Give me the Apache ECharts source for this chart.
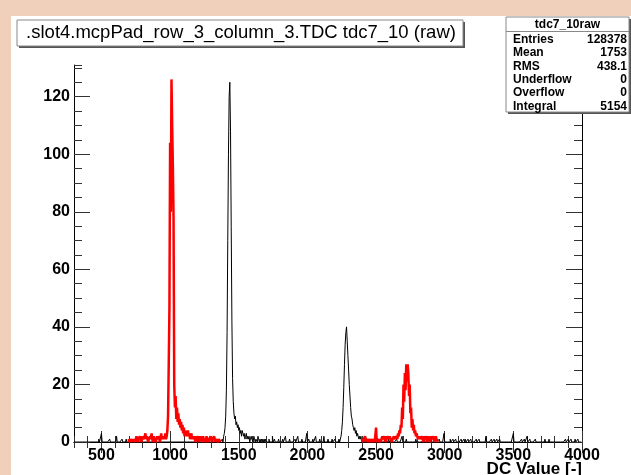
<!DOCTYPE html>
<html><head><meta charset="utf-8">
<script src="https://cdn.jsdelivr.net/npm/echarts@6/dist/echarts.min.js"></script>
<style>html,body{margin:0;padding:0;background:#fff}#c{width:631px;height:475px}</style>
</head><body><div id="c"></div>
<script>
// ---- axis / binning ----
const xMin = 300, xMax = 4000, binWidth = 5;
const yMin = 0, yMax = 131;
const xMajorTicks = [500, 1000, 1500, 2000, 2500, 3000, 3500, 4000];
const yMajorTicks = [0, 20, 40, 60, 80, 100, 120];

// ---- red histogram (two ranges) ----
const red1Start = 700;
const red1Counts = [
  1,0,1,1,0,1,0,1,1,0,
  1,2,1,0,1,1,2,1,0,1,
  2,1,1,2,3,1,2,1,0,1,
  1,2,1,3,1,0,2,1,1,0,
  1,2,1,1,2,0,1,3,1,2,
  1,2,
  1,3,1,2,4,9,27,46,104,80,126,110,96,78,20,12,16,8,12,7,
  10,6,8,5,7,4,6,3,5,2,4,3,2,3,4,2,3,1,2,3,
  1,2,1,2,1,0,2,1,1,2,0,1,2,1,1,0,2,1,1,1,
  0,2,1,1,0,1,1,2,1,0,1,1,2,1,0,1,1,1,0,1,
  1,0
];
const red2Start = 2400;
const red2Counts = [
  1,0,1,1,2,1,0,1,1,0,
  1,1,0,1,1,0,1,1,0,0,
  5,0,1,1,0,1,1,0,1,2,
  1,1,2,1,0,2,1,1,2,1,
  2,1,1,0,1,1,2,1,1,1,
  2,1,
  3,2,4,3,6,5,12,8,20,14,24,18,27,21,27,24,16,20,10,12,
  5,8,4,6,3,4,2,3,2,1,2,1,2,1,1,2,1,0,2,1,
  1,2,0,1,2,1,1,0,2,1,1,2,1,0,1,2,1,1
];

// ---- black histogram ----
const black1Start = 1380;
const black1Counts = [
  1,0,2,3,5,9,18,38,70,100,120,125,108,75,42,22,14,10,8,9,
  6,7,5,6,4,5,3,4,2,4,3,2,3,1,2,3,1,2,1,2,
  0,1,2,1,1,0,2,1,0,1,1,0,2,1,0,1,0,1,0,1,
  0,1,0,1
];
const black2Start = 2230;
const black2Counts = [
  1,0,1,2,4,7,12,19,27,34,38,40,35,30,25,20,16,12,9,8,
  6,5,4,5,3,4,2,3,2,1,2,1,2,0,1,1,0,1,0,1,
  0,1,0,1
];
const blackSpikeBins = [480,500,560,610,650,680,1720,1745,1760,1790,1820,1840,1870,1910,1930,1960,1995,2010,2040,2060,2090,2120,2150,2180,2200,2470,2490,2515,2560,2590,2610,2650,2690,2720,2790,2850,2900,2960,2995,3040,3060,3080,3120,3140,3150,3170,3190,3230,3250,3300,3340,3360,3380,3400,3500,3560,3580,3600,3620,3660,3730,3760,3880,3900,3920,3950,3970];
const blackSpikeCounts = [1,3,1,2,1,1,1,2,1,1,1,2,1,1,2,1,3,1,1,2,1,2,1,1,1,1,1,1,2,1,1,1,2,1,1,2,1,1,3,1,1,1,1,1,1,1,1,1,1,2,1,1,1,1,3,1,1,2,1,1,1,1,1,1,1,1,1];

// ---- texts ----
const titleText = '.slot4.mcpPad_row_3_column_3.TDC tdc7_10 (raw)';
const xAxisTitle = 'DC Value [-]';
const statsName = 'tdc7_10raw';
const statsLabels = ['Entries', 'Mean', 'RMS', 'Underflow', 'Overflow', 'Integral'];
const statsValues = ['128378', '1753', '438.1', '0', '0', '5154'];

// ---- build step data ----
function stepData(start, counts) {
  const d = [[start, 0]];
  counts.forEach((c, i) => d.push([start + i * binWidth, c]));
  const end = start + counts.length * binWidth;
  d.push([end, counts[counts.length - 1]]);
  d.push([end, 0]);
  return d;
}
const nBins = Math.round((xMax - xMin) / binWidth);
const blackAll = new Array(nBins).fill(0);
blackSpikeBins.forEach((b, i) => { blackAll[Math.round((b - xMin) / binWidth)] = blackSpikeCounts[i]; });
black1Counts.forEach((c, i) => { blackAll[Math.round((black1Start - xMin) / binWidth) + i] = c; });
black2Counts.forEach((c, i) => { blackAll[Math.round((black2Start - xMin) / binWidth) + i] = c; });

const FONT = '"Liberation Sans", Arial, Helvetica, sans-serif';
const tickColor = '#333';
const labelStyle = { fontFamily: FONT, fontWeight: 'bold', fontSize: 16, color: '#000' };

function xAx(pos, major, labels) {
  const a = {
    type: 'value', min: xMin, max: xMax, position: pos, gridIndex: 0,
    splitLine: { show: false },
    axisLine: { show: !major, lineStyle: { color: '#000', width: 1 } },
    axisTick: { show: true, inside: true, length: major ? 11 : 6, lineStyle: { color: tickColor, width: 1 } },
    axisLabel: { show: false }
  };
  if (major) { a.axisTick.customValues = xMajorTicks; } else { a.interval = 100; }
  if (labels) {
    a.axisLabel = Object.assign({ show: true, margin: 6, formatter: v => (xMajorTicks.includes(v) ? String(v) : '') }, labelStyle);
  }
  return a;
}
function yAx(pos, major, labels) {
  const a = {
    type: 'value', min: yMin, max: yMax, position: pos, gridIndex: 0,
    splitLine: { show: false },
    axisLine: { show: !major, lineStyle: { color: '#000', width: 1 } },
    axisTick: { show: true, inside: true, length: major ? 16 : 8, lineStyle: { color: tickColor, width: 1 } },
    axisLabel: { show: false }
  };
  if (major) { a.axisTick.customValues = yMajorTicks; } else { a.interval = 5; }
  if (labels) {
    a.axisLabel = Object.assign({ show: true, margin: 4, formatter: v => (yMajorTicks.includes(v) ? String(v) : '') }, labelStyle);
  }
  return a;
}

const statsGraphics = [];
const sbx = 506, sby = 17, sbw = 123, sbh = 95;
const SFONT = 'bold 12px ' + FONT;
statsGraphics.push({ type: 'rect', shape: { x: sbx + 2, y: sby + 2, width: sbw, height: sbh }, style: { fill: '#555' }, z: 100 });
statsGraphics.push({ type: 'rect', shape: { x: sbx, y: sby, width: sbw, height: sbh }, style: { fill: '#fff', stroke: '#888', lineWidth: 1 }, z: 101 });
statsGraphics.push({ type: 'line', shape: { x1: sbx, y1: sby + 14.5, x2: sbx + sbw, y2: sby + 14.5 }, style: { stroke: '#888', lineWidth: 1 }, z: 102 });
statsGraphics.push({ type: 'text', style: { text: statsName, x: sbx + sbw / 2, y: sby + 7.5, align: 'center', verticalAlign: 'middle', font: SFONT, fill: '#000' }, z: 103 });
statsLabels.forEach((l, i) => {
  const yy = sby + 22.5 + i * 13.4;
  statsGraphics.push({ type: 'text', style: { text: l, x: sbx + 7, y: yy, align: 'left', verticalAlign: 'middle', font: SFONT, fill: '#000' }, z: 103 });
  statsGraphics.push({ type: 'text', style: { text: statsValues[i], x: sbx + sbw - 2, y: yy, align: 'right', verticalAlign: 'middle', font: SFONT, fill: '#000' }, z: 103 });
});

const chart = echarts.init(document.getElementById('c'), null, { renderer: 'canvas' });
chart.setOption({
  animation: false,
  backgroundColor: '#ffffff',
  grid: { left: 74, top: 65, right: 49, bottom: 33, containLabel: false },
  xAxis: [xAx('bottom', false, true), xAx('bottom', true, false), xAx('top', false, false), xAx('top', true, false)],
  yAxis: [yAx('left', false, true), yAx('left', true, false), yAx('right', false, false), yAx('right', true, false)],
  series: [
    { name: 'black', type: 'line', step: 'end', xAxisIndex: 0, yAxisIndex: 0, showSymbol: false, symbol: 'none',
      data: stepData(xMin, blackAll), lineStyle: { color: '#000', width: 1 }, z: 2 },
    { name: 'red1', type: 'line', step: 'end', xAxisIndex: 0, yAxisIndex: 0, showSymbol: false, symbol: 'none',
      data: stepData(red1Start, red1Counts), lineStyle: { color: '#ff0000', width: 2.5 }, z: 3 },
    { name: 'red2', type: 'line', step: 'end', xAxisIndex: 0, yAxisIndex: 0, showSymbol: false, symbol: 'none',
      data: stepData(red2Start, red2Counts), lineStyle: { color: '#ff0000', width: 2.5 }, z: 3 }
  ],
  graphic: [
    { type: 'rect', shape: { x: 0, y: 0, width: 631, height: 16 }, style: { fill: '#f0d0ba' }, z: 90 },
    { type: 'rect', shape: { x: 0, y: 0, width: 11, height: 475 }, style: { fill: '#f0d0ba' }, z: 90 },
    { type: 'rect', shape: { x: 19, y: 22, width: 446, height: 26 }, style: { fill: '#555' }, z: 100 },
    { type: 'rect', shape: { x: 17, y: 20, width: 446, height: 26 }, style: { fill: '#fff', stroke: '#888', lineWidth: 1 }, z: 101 },
    { type: 'text', style: { text: titleText, x: 241, y: 33, align: 'center', verticalAlign: 'middle', font: '18.5px ' + FONT, fill: '#000' }, z: 103 },
    { type: 'text', style: { text: xAxisTitle, x: 582, y: 461, align: 'right', verticalAlign: 'top', font: 'bold 17px ' + FONT, fill: '#000' }, z: 103 }
  ].concat(statsGraphics)
});
</script>
</body></html>
